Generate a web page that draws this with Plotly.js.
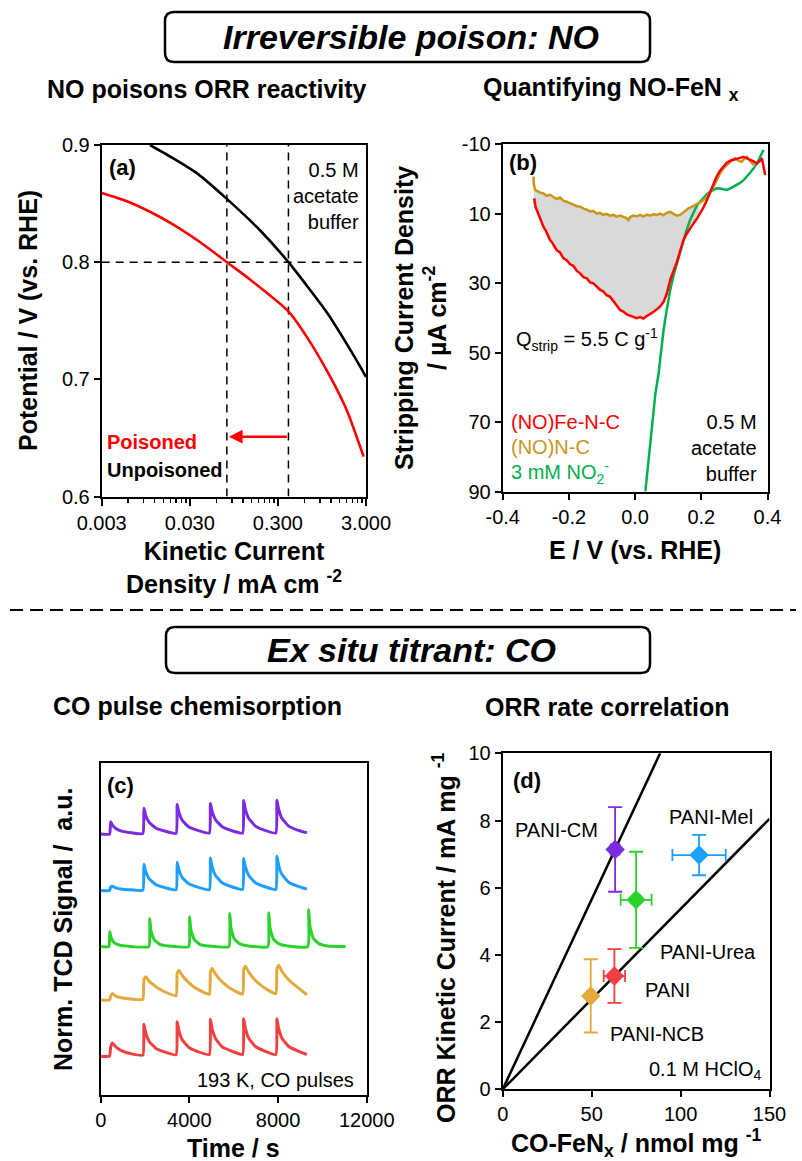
<!DOCTYPE html>
<html><head><meta charset="utf-8">
<script src="https://cdn.plot.ly/plotly-3.0.1.min.js"></script>
<style>html,body{margin:0;padding:0;background:#fff;}#chart{width:802px;height:1161px;}</style>
</head><body><div id="chart"></div>
<script>
// ===== Panel (a): ORR polarization (log kinetic current) =====
const kineticUnpoisoned   = [0.0106, 0.0195, 0.036, 0.079, 0.189, 0.395, 1.08, 1.82, 2.71, 3.0];
const potentialUnpoisoned = [0.900, 0.8886, 0.876, 0.854, 0.827, 0.800, 0.757, 0.730, 0.708, 0.702];
const kineticPoisoned     = [0.003, 0.0058, 0.0106, 0.0195, 0.0468, 0.079, 0.146, 0.395, 0.641, 1.18, 1.83, 2.82];
const potentialPoisoned   = [0.859, 0.852, 0.843, 0.832, 0.813, 0.800, 0.785, 0.758, 0.736, 0.702, 0.673, 0.634];
const jPoisonedAt08 = 0.079, jUnpoisonedAt08 = 0.395, vRef = 0.8, arrowV = 0.651;
const aXTickVals = [0.003, 0.03, 0.3, 3];
const aXTickText = ['0.003', '0.030', '0.300', '3.000'];
const aYTickVals = [0.6, 0.7, 0.8, 0.9];
const aYTickText = ['0.6', '0.7', '0.8', '0.9'];

// ===== Panel (b): NO stripping =====
const feNC_E = [-0.305,-0.301,-0.297,-0.290,-0.283,-0.277,-0.270,-0.263,-0.257,-0.250,-0.243,-0.237,-0.227,-0.217,-0.207,-0.196,-0.186,-0.176,-0.166,-0.156,-0.146,-0.136,-0.126,-0.116,-0.106,-0.096,-0.086,-0.076,-0.066,-0.056,-0.045,-0.035,-0.025,-0.015,-0.005,0.005,0.015,0.025,0.035,0.045,0.055,0.065,0.075,0.086,0.096,0.106,0.116,0.126,0.131,0.141,0.146,0.156,0.166,0.176,0.186,0.196,0.207,0.217,0.227,0.237,0.247,0.257,0.267,0.277,0.287,0.297,0.307,0.317,0.328,0.338,0.348,0.358,0.368,0.378,0.383,0.388,0.393];
const feNC_J = [5.6,8.0,9.0,10.6,12.5,13.8,14.9,16.5,17.6,18.4,19.6,20.5,21.2,22.8,23.4,24.6,25.1,26.5,27.2,28.3,28.6,29.8,30.1,31.0,31.9,32.4,33.5,33.9,35.0,36.4,37.8,38.2,39.0,39.3,39.7,40.1,39.8,40.2,39.5,39.0,38.3,37.6,36.8,35.4,33.0,29.1,26.8,24.0,22.4,19.5,17.6,15.8,14.2,12.9,11.6,10.0,8.2,6.1,3.8,1.3,-0.8,-2.4,-3.5,-4.6,-5.2,-5.4,-5.8,-6.0,-6.3,-5.9,-5.4,-5.0,-4.4,-5.2,-5.9,-3.6,-1.1];
const nC_E = [-0.307,-0.306,-0.302,-0.295,-0.287,-0.277,-0.267,-0.257,-0.247,-0.237,-0.227,-0.217,-0.207,-0.196,-0.186,-0.176,-0.166,-0.156,-0.146,-0.136,-0.126,-0.116,-0.106,-0.096,-0.086,-0.076,-0.066,-0.056,-0.045,-0.035,-0.025,-0.020,-0.015,-0.005,0.005,0.015,0.025,0.035,0.045,0.055,0.066,0.076,0.086,0.096,0.106,0.116,0.126,0.136,0.146,0.156,0.161,0.171,0.181,0.191,0.201,0.211,0.217,0.227,0.237,0.247,0.257,0.267,0.277,0.282,0.292,0.302,0.312,0.322,0.330,0.338,0.348,0.356,0.363];
const nC_J = [-0.6,1.5,3.2,3.6,4.0,4.2,4.9,4.6,5.2,5.8,5.4,6.3,6.6,7.0,7.4,7.9,8.0,8.6,8.9,9.4,9.3,10.0,9.8,10.4,10.1,10.6,10.4,10.9,10.6,11.1,11.4,11.9,11.0,10.6,10.8,10.4,10.9,10.3,10.6,10.2,10.4,10.0,10.5,9.8,9.5,10.1,10.6,10.4,9.6,9.0,8.5,8.1,7.6,7.1,6.5,5.8,5.2,3.9,2.3,0.4,-1.6,-3.0,-4.0,-4.4,-5.3,-5.9,-5.2,-4.9,-5.8,-6.3,-5.0,-4.2,-3.9];
const nitrite_E = [0.031,0.041,0.051,0.061,0.071,0.086,0.096,0.106,0.116,0.126,0.136,0.146,0.156,0.166,0.176,0.186,0.196,0.207,0.217,0.227,0.237,0.247,0.257,0.267,0.277,0.287,0.297,0.307,0.317,0.328,0.338,0.348,0.358,0.368,0.378,0.388];
const nitrite_J = [90,80,70,62,56,43.5,37.5,32,27.8,24.3,20.8,17.6,14.6,11.9,9.6,7.8,6.6,5.3,4.4,3.7,3.1,2.7,2.8,3.0,3.2,2.8,2.3,1.8,1.2,0.4,-0.6,-1.8,-3.0,-4.4,-6.3,-8.3];
const bXTickVals = [-0.4, -0.2, 0, 0.2, 0.4];
const bXTickText = ['-0.4', '-0.2', '0.0', '0.2', '0.4'];
const bYTickVals = [-10, 10, 30, 50, 70, 90];
const bYTickText = ['-10', '10', '30', '50', '70', '90'];
const fillLimitE = 0.196;

// ===== Panel (c): CO pulse chemisorption traces =====
const timePulse = [0, 400,450,530,680,980,1380, 1900,1950,2030,2180,2480,2880, 3400,3450,3530,3680,3980,4380, 4900,4950,5030,5180,5480,5880, 6400,6450,6530,6680,6980,7380, 7900,7950,8030,8180,8480,8880, 9300];
const sigPurple = [7.86, 7.86,8.23,8.13,8.03,7.94,7.90, 7.87,8.64,8.42,8.22,8.04,7.95, 7.88,8.75,8.51,8.27,8.07,7.97, 7.89,8.78,8.53,8.29,8.08,7.97, 7.89,8.87,8.59,8.33,8.10,7.98, 7.89,8.88,8.60,8.33,8.10,7.98, 7.90];
const sigBlue   = [6.16, 6.16,6.27,6.29,6.24,6.20,6.18, 6.17,6.95,6.73,6.52,6.34,6.25, 6.18,7.01,6.78,6.55,6.36,6.26, 6.18,7.14,6.87,6.61,6.39,6.28, 6.19,7.12,6.86,6.61,6.39,6.28, 6.19,7.19,6.91,6.64,6.41,6.29, 6.20];
const sigGold   = [2.86, 2.86,2.98,3.06,2.98,2.92,2.89, 2.88,3.49,3.56,3.43,3.27,3.11, 2.99,3.67,3.76,3.60,3.38,3.18, 3.03,3.72,3.81,3.64,3.41,3.20, 3.04,3.78,3.88,3.70,3.45,3.23, 3.05,3.81,3.91,3.72,3.47,3.24, 3.02];
const sigRed    = [1.17, 1.17,1.45,1.57,1.45,1.32,1.24, 1.20,2.13,1.87,1.62,1.41,1.30, 1.21,2.21,1.93,1.66,1.43,1.31, 1.22,2.28,1.98,1.70,1.45,1.33, 1.22,2.30,2.00,1.71,1.46,1.33, 1.22,2.30,2.00,1.71,1.46,1.33, 1.22];
const timeGreen = [0, 370,410,470,620,870,1270, 2170,2210,2270,2420,2670,3070, 3970,4010,4070,4220,4470,4870, 5780,5820,5880,6030,6280,6680, 7540,7580,7640,7790,8040,8440, 9340,9380,9440,9590,9840,10240, 11050];
const sigGreen  = [4.47, 4.47,4.92,4.74,4.58,4.51,4.48, 4.47,5.32,4.94,4.67,4.54,4.49, 4.47,5.37,4.97,4.68,4.54,4.49, 4.47,5.47,5.02,4.70,4.55,4.49, 4.47,5.49,5.03,4.70,4.55,4.49, 4.47,5.59,5.08,4.72,4.56,4.49, 4.47];
const cXTickVals = [0, 4000, 8000, 12000];

// ===== Panel (d): ORR rate vs CO-FeNx =====
const catalysts = ['PANI-CM', 'PANI-Mel', 'PANI-Urea', 'PANI', 'PANI-NCB'];
const coFeNx    = [63.2, 110.4, 75.0, 62.8, 49.5];
const coFeNxErr = [2.5, 15, 8.7, 6, 2];
const orrCurrent    = [7.14, 6.97, 5.64, 3.37, 2.78];
const orrCurrentErr = [1.26, 0.6, 1.43, 0.8, 1.09];
const steepLineX = [0, 88.5], steepLineY = [0, 10];
const shallowLineX = [0, 150], shallowLineY = [0, 8.05];
const dXTickVals = [0, 50, 100, 150];
const dYTickVals = [0, 2, 4, 6, 8, 10];

// ===== styling =====
const F = 'Liberation Sans, Arial, Helvetica, sans-serif';
const W = 802, H = 1161;
const px = x => x / W, py = y => 1 - y / H;
const colPurple = '#7B2BE2', colBlue = '#1E9EFF', colGreen = '#2BD22B', colGold = '#E3A93A', colRed = '#F0403F';
const catColors = [colPurple, colBlue, colGreen, colRed, colGold];

function axis(d0, d1, anchor, extra, vertical) {
  const dom = vertical ? [py(d1), py(d0)] : [px(d0), px(d1)];
  return Object.assign({
    domain: dom, anchor: anchor, showline: true, linecolor: '#000', linewidth: 2, mirror: true,
    ticks: 'outside', ticklen: 6, tickwidth: 2, tickcolor: '#000', showgrid: false, zeroline: false,
    tickfont: {family: F, size: 20, color: '#000'}, fixedrange: true
  }, extra);
}

// minor tick positions for log axis (a)
const minorA = [];
[0.003, 0.03, 0.3].forEach(b => { for (let k = 2; k <= 9; k++) minorA.push(b * k); });

// fill polygon for stripping charge (b)
const fillE = [], fillJ = [];
nC_E.forEach((e, i) => { if (e <= fillLimitE) { fillE.push(e); fillJ.push(nC_J[i]); } });
for (let i = feNC_E.length - 1; i >= 0; i--) { if (feNC_E[i] <= fillLimitE) { fillE.push(feNC_E[i]); fillJ.push(feNC_J[i]); } }

const dashLine = {color: '#000', width: 1.5, dash: '8px,6px'};
const traces = [
  // (a)
  {x: [jPoisonedAt08, jPoisonedAt08], y: [0.6, 0.9], xaxis: 'x', yaxis: 'y', mode: 'lines', line: dashLine},
  {x: [jUnpoisonedAt08, jUnpoisonedAt08], y: [0.6, 0.9], xaxis: 'x', yaxis: 'y', mode: 'lines', line: dashLine},
  {x: [0.003, 3], y: [vRef, vRef], xaxis: 'x', yaxis: 'y', mode: 'lines', line: dashLine},
  {x: kineticUnpoisoned, y: potentialUnpoisoned, xaxis: 'x', yaxis: 'y', mode: 'lines', line: {color: '#000', width: 2.6, shape: 'spline', smoothing: 0.6}},
  {x: kineticPoisoned, y: potentialPoisoned, xaxis: 'x', yaxis: 'y', mode: 'lines', line: {color: '#FF0000', width: 2.6, shape: 'spline', smoothing: 0.6}},
  // (b)
  {x: fillE, y: fillJ, xaxis: 'x2', yaxis: 'y2', mode: 'lines', fill: 'toself', fillcolor: '#D9D9D9', line: {width: 0}},
  {x: nitrite_E, y: nitrite_J, xaxis: 'x2', yaxis: 'y2', mode: 'lines', line: {color: '#00B050', width: 2.5}},
  {x: nC_E, y: nC_J, xaxis: 'x2', yaxis: 'y2', mode: 'lines', line: {color: '#C9961A', width: 2.5}},
  {x: feNC_E, y: feNC_J, xaxis: 'x2', yaxis: 'y2', mode: 'lines', line: {color: '#FF0000', width: 2.5}},
  // (c)
  {x: timePulse, y: sigPurple, xaxis: 'x3', yaxis: 'y3', mode: 'lines', line: {color: colPurple, width: 3, shape: 'spline', smoothing: 0.4}},
  {x: timePulse, y: sigBlue, xaxis: 'x3', yaxis: 'y3', mode: 'lines', line: {color: colBlue, width: 3, shape: 'spline', smoothing: 0.4}},
  {x: timeGreen, y: sigGreen, xaxis: 'x3', yaxis: 'y3', mode: 'lines', line: {color: colGreen, width: 3, shape: 'spline', smoothing: 0.4}},
  {x: timePulse, y: sigGold, xaxis: 'x3', yaxis: 'y3', mode: 'lines', line: {color: colGold, width: 3, shape: 'spline', smoothing: 0.4}},
  {x: timePulse, y: sigRed, xaxis: 'x3', yaxis: 'y3', mode: 'lines', line: {color: colRed, width: 3, shape: 'spline', smoothing: 0.4}},
  // (d)
  {x: steepLineX, y: steepLineY, xaxis: 'x4', yaxis: 'y4', mode: 'lines', line: {color: '#000', width: 2.5}},
  {x: shallowLineX, y: shallowLineY, xaxis: 'x4', yaxis: 'y4', mode: 'lines', line: {color: '#000', width: 2.5}}
];
catalysts.forEach((name, i) => {
  traces.push({
    x: [coFeNx[i]], y: [orrCurrent[i]], name: name, xaxis: 'x4', yaxis: 'y4', mode: 'markers',
    marker: {symbol: 'diamond', size: 15, color: catColors[i]},
    error_x: {type: 'data', array: [coFeNxErr[i]], color: catColors[i], thickness: 1.8, width: 6},
    error_y: {type: 'data', array: [orrCurrentErr[i]], color: catColors[i], thickness: 1.8, width: 7},
    cliponaxis: false
  });
});

function ann(text, x, y, opts) {
  return Object.assign({text: text, x: px(x), y: py(y), xref: 'paper', yref: 'paper', showarrow: false,
    xanchor: 'center', yanchor: 'middle', font: {family: F, size: 20, color: '#000'}}, opts || {});
}
const bold25 = {family: F, size: 25, color: '#000', weight: 'bold'};
const boxTitle = {family: F, size: 34, color: '#000', weight: 'bold', style: 'italic'};
const bold22 = {family: F, size: 22, color: '#000', weight: 'bold'};

const annotations = [
  ann('Irreversible poison: NO', 411, 37, {font: boxTitle}),
  ann('NO poisons ORR reactivity', 207, 89, {font: bold25}),
  ann('Quantifying NO-FeN <sub>x</sub>', 611, 89, {font: bold25}),
  ann('Ex situ titrant: CO', 411, 650, {font: boxTitle}),
  ann('CO pulse chemisorption', 197, 706, {font: bold25}),
  ann('ORR rate correlation', 607, 707, {font: bold25}),
  // axis titles
  ann('Potential / V (vs. RHE)', 28, 321, {font: bold25, textangle: -90}),
  ann('Kinetic Current<br>Density / mA cm <sup>-2</sup>', 234, 567, {font: bold25}),
  ann('Stripping Current Density<br>/ µA cm<sup>-2</sup>', 420, 318, {font: bold25, textangle: -90}),
  ann('E / V (vs. RHE)', 635, 550, {font: bold25}),
  ann('Norm. TCD Signal /  a.u.', 63, 930, {font: bold25, textangle: -90}),
  ann('Time / s', 233, 1148, {font: bold25}),
  ann('ORR Kinetic Current / mA mg <sup>-1</sup>', 444, 938, {font: bold25, textangle: -90}),
  ann('CO-FeN<sub>x</sub> / nmol mg <sup>-1</sup>', 636, 1143, {font: bold25}),
  // panel (a) text
  ann('(a)', 107, 168, {font: bold22, xanchor: 'left'}),
  ann('0.5 M<br>acetate<br>buffer', 361, 196, {xanchor: 'right', align: 'right'}),
  ann('Poisoned', 105, 442, {xanchor: 'left', font: {family: F, size: 20, color: '#FF0000', weight: 'bold'}}),
  ann('Unpoisoned', 105, 470, {xanchor: 'left', font: {family: F, size: 20, color: '#000', weight: 'bold'}}),
  {x: Math.log10(jPoisonedAt08), y: arrowV, ax: Math.log10(jUnpoisonedAt08), ay: arrowV, xref: 'x', yref: 'y', axref: 'x', ayref: 'y',
   text: '', showarrow: true, arrowhead: 2, arrowsize: 1.1, arrowwidth: 2.5, arrowcolor: '#FF0000', standoff: 2},
  // panel (b) text
  ann('(b)', 507, 162, {font: bold22, xanchor: 'left'}),
  ann('Q<sub>strip</sub> = 5.5 C g<sup>-1</sup>', 514, 340, {xanchor: 'left', font: {family: F, size: 20, color: '#000'}}),
  ann('(NO)Fe-N-C', 509, 422, {xanchor: 'left', font: {family: F, size: 20, color: '#FF0000'}}),
  ann('(NO)N-C', 509, 447, {xanchor: 'left', font: {family: F, size: 20, color: '#C9961A'}}),
  ann('3 mM NO<sub>2</sub><sup>-</sup>', 509, 472, {xanchor: 'left', font: {family: F, size: 20, color: '#00B050'}}),
  ann('0.5 M<br>acetate<br>buffer', 759, 448, {xanchor: 'right', align: 'right'}),
  // panel (c)
  ann('(c)', 105, 785, {font: bold22, xanchor: 'left'}),
  ann('193 K, CO pulses', 356, 1080, {xanchor: 'right', font: {family: F, size: 20, color: '#000'}}),
  // panel (d)
  ann('(d)', 511, 780, {font: bold22, xanchor: 'left'}),
  ann('PANI-CM', 513, 830, {xanchor: 'left'}),
  ann('PANI-Mel', 667, 817, {xanchor: 'left'}),
  ann('PANI-Urea', 658, 952, {xanchor: 'left'}),
  ann('PANI', 643, 990, {xanchor: 'left'}),
  ann('PANI-NCB', 608, 1034, {xanchor: 'left'}),
  ann('0.1 M HClO<sub>4</sub>', 763, 1070, {xanchor: 'right', font: {family: F, size: 20, color: '#000'}})
];

function roundRect(x0, y0, x1, y1, r) {
  const P = (x, y) => px(x) + ',' + py(y);
  return 'M' + P(x0 + r, y0) + ' L' + P(x1 - r, y0) + ' Q' + P(x1, y0) + ' ' + P(x1, y0 + r) +
    ' L' + P(x1, y1 - r) + ' Q' + P(x1, y1) + ' ' + P(x1 - r, y1) + ' L' + P(x0 + r, y1) +
    ' Q' + P(x0, y1) + ' ' + P(x0, y1 - r) + ' L' + P(x0, y0 + r) + ' Q' + P(x0, y0) + ' ' + P(x0 + r, y0) + ' Z';
}
const shapes = [
  {type: 'path', xref: 'paper', yref: 'paper', path: roundRect(165, 12, 650, 62, 9), line: {color: '#000', width: 2.5}},
  {type: 'path', xref: 'paper', yref: 'paper', path: roundRect(166, 627, 650, 673, 9), line: {color: '#000', width: 2.5}},
  {type: 'line', xref: 'paper', yref: 'paper', x0: px(10), x1: px(796), y0: py(610), y1: py(610), line: {color: '#000', width: 2, dash: '13px,7px'}}
];

const layout = {
  width: W, height: H, margin: {l: 0, r: 0, t: 0, b: 0}, showlegend: false,
  paper_bgcolor: '#fff', plot_bgcolor: 'rgba(0,0,0,0)', font: {family: F, color: '#000'},
  xaxis: axis(101.7, 366, 'y', {type: 'log', range: [Math.log10(0.003), Math.log10(3)], tickvals: aXTickVals, ticktext: aXTickText, ticklen: 7,
    minor: {tickmode: 'array', tickvals: minorA, ticks: 'outside', ticklen: 4, tickwidth: 1.5, tickcolor: '#000', showgrid: false}}),
  yaxis: axis(145, 496.5, 'x', {range: [0.6, 0.9], tickvals: aYTickVals, ticktext: aYTickText}, true),
  xaxis2: axis(502.7, 767.5, 'y2', {range: [-0.4, 0.4], tickvals: bXTickVals, ticktext: bXTickText}),
  yaxis2: axis(144, 491.7, 'x2', {range: [90, -10], tickvals: bYTickVals, ticktext: bYTickText}, true),
  xaxis3: axis(100.7, 366.7, 'y3', {range: [0, 12000], tickvals: cXTickVals, ticktext: cXTickVals.map(String)}),
  yaxis3: axis(763, 1095, 'x3', {range: [0, 10], ticks: '', showticklabels: false}, true),
  xaxis4: axis(502.7, 769.5, 'y4', {range: [0, 150], tickvals: dXTickVals, ticktext: dXTickVals.map(String)}),
  yaxis4: axis(753.3, 1089.3, 'x4', {range: [0, 10], tickvals: dYTickVals, ticktext: dYTickVals.map(String)}, true),
  annotations: annotations, shapes: shapes
};

Plotly.newPlot('chart', traces, layout, {staticPlot: true, displayModeBar: false});
</script></body></html>
